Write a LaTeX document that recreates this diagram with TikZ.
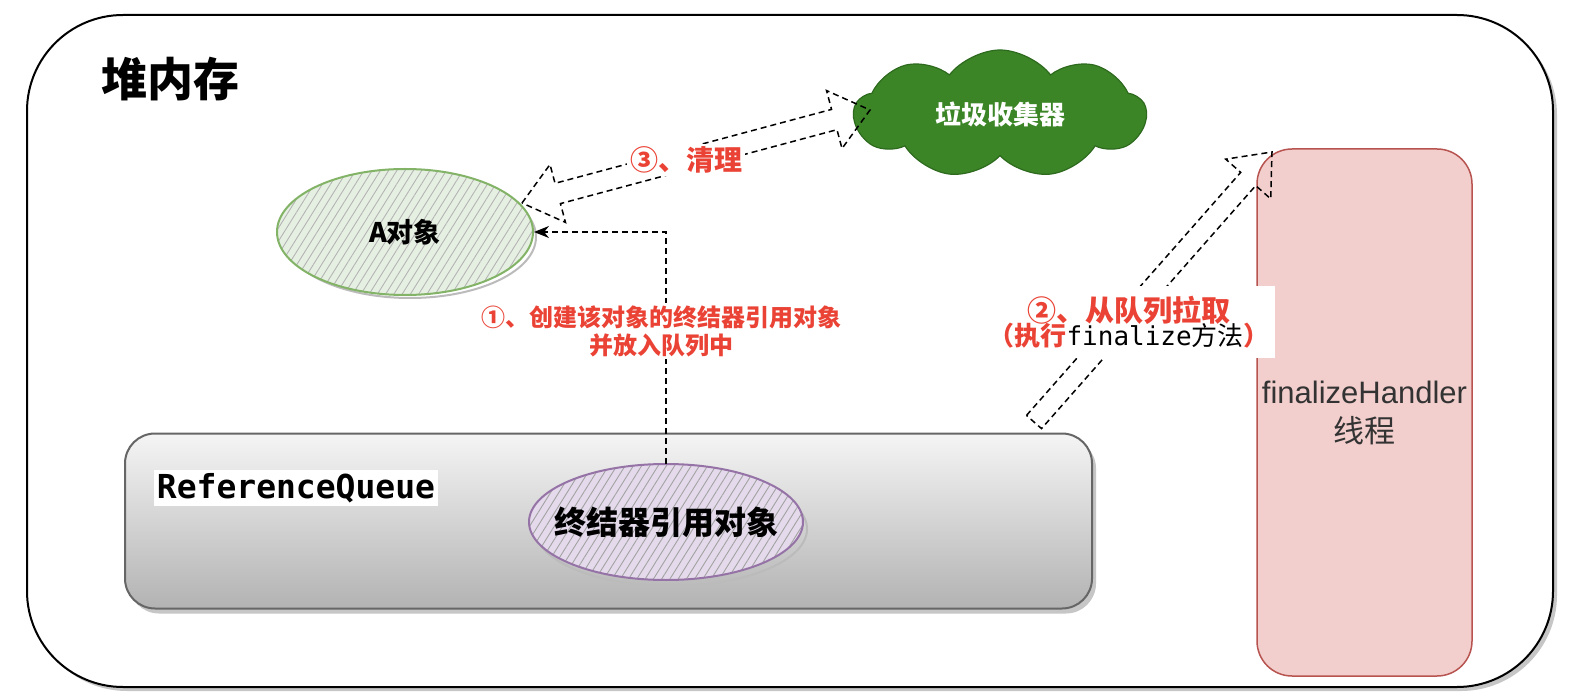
\documentclass[tikz,border=0pt]{standalone}
\usepackage{fontspec}
\setmainfont{Liberation Sans}
\newfontfamily\cjk{Noto Sans CJK SC}
\newfontfamily\mono{DejaVu Sans Mono}
\usetikzlibrary{shapes.geometric,shapes.symbols,patterns.meta,calc,arrows.meta,shadows}
\definecolor{redtxt}{HTML}{EA4335}
\definecolor{agreen}{HTML}{82B366}
\definecolor{agreenfill}{HTML}{E6F0E2}
\definecolor{purpleline}{HTML}{9673A6}
\definecolor{purplefill}{HTML}{E4DAEC}
\definecolor{pinkfill}{HTML}{F2CFCD}
\definecolor{pinkline}{HTML}{B85450}
\definecolor{gcfill}{HTML}{3B8526}
\definecolor{gcline}{HTML}{2D6A1E}
\definecolor{hatchgray}{HTML}{B4B4B4}
\definecolor{sketchgray}{HTML}{BBBBBB}
\definecolor{txtgray}{HTML}{333333}
\newcommand\fsz[2]{\fontsize{#1}{#2}\selectfont}
\newcommand\flexdouble[5]{% a b headlen shafthalf headhalf
  \draw[flexline] (#1)
   -- ($(#1)!#3!(#2)!#5!90:(#2)$)
   -- ($(#1)!#3!(#2)!#4!90:(#2)$)
   -- ($(#2)!#3!(#1)!#4!-90:(#1)$)
   -- ($(#2)!#3!(#1)!#5!-90:(#1)$)
   -- (#2)
   -- ($(#2)!#3!(#1)!#5!90:(#1)$)
   -- ($(#2)!#3!(#1)!#4!90:(#1)$)
   -- ($(#1)!#3!(#2)!#4!-90:(#2)$)
   -- ($(#1)!#3!(#2)!#5!-90:(#2)$)
   -- cycle;}
\newcommand\flexsingle[5]{% a b headlen shafthalf headhalf
  \draw[flexline] ($(#1)!#4!90:(#2)$)
   -- ($(#2)!#3!(#1)!#4!-90:(#1)$)
   -- ($(#2)!#3!(#1)!#5!-90:(#1)$)
   -- (#2)
   -- ($(#2)!#3!(#1)!#5!90:(#1)$)
   -- ($(#2)!#3!(#1)!#4!90:(#1)$)
   -- ($(#1)!#4!-90:(#2)$)
   -- cycle;}
\begin{document}
\begin{tikzpicture}[x=1pt,y=-1pt,
  dashline/.style={line width=1.5pt, dash pattern=on 6pt off 4pt},
  flexline/.style={dashline, line join=miter},
  dasharrow/.style={dashline, -{Stealth[length=15pt,width=12pt]}},
  heapbox/.style={draw=black, line width=2pt, fill=white, rounded corners=96pt,
    drop shadow={shadow xshift=4pt, shadow yshift=-4pt, fill=gray!45, opacity=1}},
  queuebox/.style={draw=black!60, line width=2pt, rounded corners=30pt,
    top color=black!4, bottom color=black!30,
    drop shadow={shadow xshift=4pt, shadow yshift=-5pt, fill=gray!45, opacity=1}},
  sketchy/.style={ellipse, inner sep=0pt, line width=2pt,
    pattern={Lines[angle=58,distance=7pt,line width=0.9pt]}},
  boldcjk/.style={font=\cjk\bfseries\fsz{#1}{#1}},
  redlabel/.style={fill=white, text=redtxt, align=center, inner sep=2pt}
]
\useasboundingbox (0,0) rectangle (1590,700);

% heap frame
\node[heapbox, minimum width=1526pt, minimum height=672pt] (heap) at (790,351) {};
\node[boldcjk=46] (title) at (170,79) {堆内存};

% ReferenceQueue
\node[queuebox, minimum width=967pt, minimum height=175pt] (queue) at (608.5,521) {};
\node[fill=white, inner sep=3pt, font=\mono\bfseries\fsz{33}{36}] (rqlabel) at (296,488) {ReferenceQueue};

% finalizer reference object
\draw[sketchgray, line width=2pt] (671,529) ellipse [x radius=136pt, y radius=57pt];
\node[sketchy, preaction={fill=purplefill}, pattern color=hatchgray!90!black,
  draw=purpleline, minimum width=274pt, minimum height=116pt,
  label={[boldcjk=32]center:终结器引用对象}] (fo) at (666,522) {};

% finalizeHandler thread
\node[rounded corners=35pt, fill=pinkfill, draw=pinkline, line width=1.5pt,
  minimum width=215pt, minimum height=527pt, align=center, text=txtgray,
  font=\fsz{31}{39}] (fh) at (1364.5,412.5) {finalizeHandler\\{\cjk 线程}};

% A object
\draw[sketchgray, line width=2pt] (410,237) ellipse [x radius=126pt, y radius=61pt];
\node[sketchy, preaction={fill=agreenfill}, pattern color=hatchgray,
  draw=agreen, minimum width=256pt, minimum height=126pt,
  label={[boldcjk=27]center:A对象}] (A) at (405,232) {};

% garbage collector cloud
\node[cloud, cloud puffs=9, cloud puff arc=105, aspect=2.3, minimum width=292pt,
  minimum height=128pt, inner sep=0pt, fill=gcfill, draw=gcline, line width=1.2pt,
  text=white, boldcjk=26] (gc) at (1000,114) {垃圾收集器};

% arrow 1
\draw[dasharrow] (fo.north) |- (A.east);
\node[redlabel, font=\cjk\bfseries\fsz{24}{28}] (l1) at (661,331) {①、创建该对象的终结器引用对象\\并放入队列中};

% arrow 3 (double flex arrow)
\coordinate (t3a) at (522,203);
\coordinate (t3b) at (870,110);
\flexdouble{t3a}{t3b}{37pt}{10.5pt}{30pt}
\node[redlabel, inner sep=3pt, font=\cjk\bfseries\fsz{28}{30}] (l3) at (686,160) {③、清理};

% arrow 2 (single flex arrow)
\coordinate (t2a) at (1034,422);
\coordinate (t2b) at (1272,152);
\flexsingle{t2a}{t2b}{36pt}{10pt}{30pt}
\node[fill=white, anchor=east, minimum height=72pt, inner xsep=0pt, inner ysep=0pt, align=center] (l2) at (1275,322)
  {\hspace*{2pt}{\cjk\bfseries\color{redtxt}\fsz{29}{35}②、从队列拉取}\hspace*{5pt}\\[-2pt]
   \hspace*{2pt}{\fsz{26}{32}{\cjk\bfseries\color{redtxt}（执行}{\mono finalize}{\cjk 方法}{\cjk\bfseries\color{redtxt}）}}\hspace*{5pt}};
\end{tikzpicture}
\end{document}
